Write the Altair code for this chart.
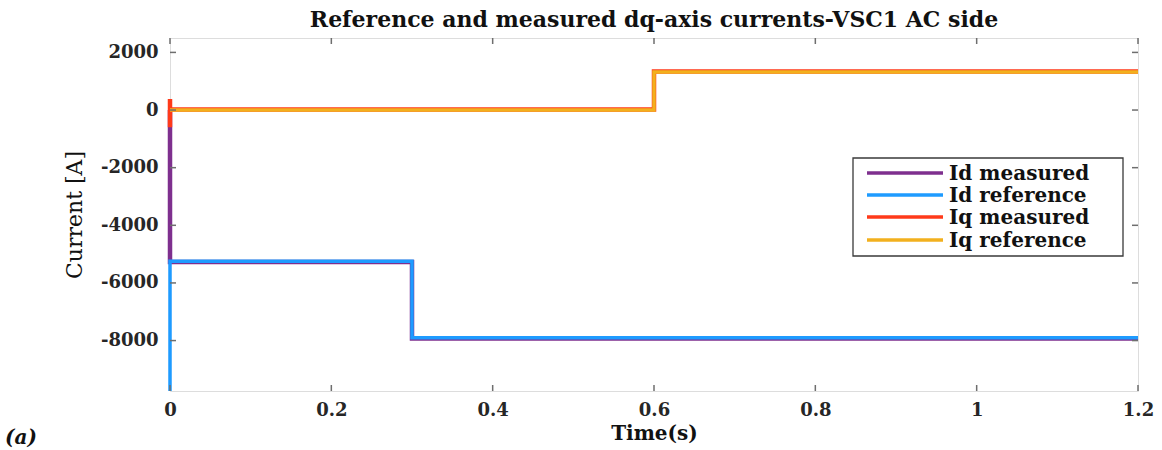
import altair as alt
import pandas as pd

# ---- data ----
series_names = ["Id measured", "Id reference", "Iq measured", "Iq reference"]
series_colors = ["#7E2F8E", "#1E9BFF", "#FF3A1A", "#F2B01E"]

t_id_meas = [0, 0, 0.3, 0.3, 1.2]
v_id_meas = [0, -5275, -5275, -7925, -7925]

t_id_ref = [0, 0, 0.3, 0.3, 1.2]
v_id_ref = [-9750, -5250, -5250, -7900, -7900]

t_iq_meas = [0, 0, 0, 0.6, 0.6, 1.2]
v_iq_meas = [-600, 380, 15, 15, 1340, 1340]

t_iq_ref = [0, 0.6, 0.6, 1.2]
v_iq_ref = [0, 0, 1320, 1320]

x_ticks = [0, 0.2, 0.4, 0.6, 0.8, 1, 1.2]
y_ticks = [2000, 0, -2000, -4000, -6000, -8000]

W, H = 968, 353
FONT = "DejaVu Serif"
LABEL_COL = "#262626"

x_scale = alt.Scale(domain=[0, 1.2], nice=False, zero=False)
y_scale = alt.Scale(domain=[-9750, 2500], nice=False, zero=False)

x_axis = alt.Axis(values=x_ticks, labelExpr="'' + datum.value", title="Time(s)",
                  ticks=False, domain=False, grid=False, labelPadding=10,
                  labelFont=FONT, labelFontSize=18, labelFontWeight="bold", labelColor=LABEL_COL,
                  titleFont=FONT, titleFontSize=20, titleFontWeight="bold", titleColor="#111",
                  titlePadding=4, labelFlush=False)
y_axis = alt.Axis(values=y_ticks, labelExpr="'' + datum.value", title="Current [A]",
                  ticks=False, domain=False, grid=False, labelPadding=12,
                  labelFont=FONT, labelFontSize=18, labelFontWeight="bold", labelColor=LABEL_COL,
                  titleFont=FONT, titleFontSize=22, titleFontWeight="normal", titleColor="#111",
                  titlePadding=14, labelFlush=False)

series_data = [
    (t_id_meas, v_id_meas, 4.5),
    (t_id_ref, v_id_ref, 3.5),
    (t_iq_meas, v_iq_meas, 4.5),
    (t_iq_ref, v_iq_ref, 3.5),
]

layers = []
for i, (ts, vs, sw) in enumerate(series_data):
    df = pd.DataFrame({"t": ts, "v": vs, "o": list(range(len(ts)))})
    if i == 0:
        xe = alt.X("t:Q", scale=x_scale, axis=x_axis)
        ye = alt.Y("v:Q", scale=y_scale, axis=y_axis)
    else:
        xe = alt.X("t:Q", scale=x_scale)
        ye = alt.Y("v:Q", scale=y_scale)
    layers.append(
        alt.Chart(df).mark_line(color=series_colors[i], strokeWidth=sw, strokeJoin="miter")
        .encode(x=xe, y=ye, order="o:Q")
    )

# inside ticks on all four sides
xt = pd.DataFrame({"t": x_ticks})
yt = pd.DataFrame({"v": y_ticks})
tick_col = "#6e6e6e"
ticks = [
    alt.Chart(xt).mark_rule(color=tick_col, strokeWidth=1.5).encode(
        x=alt.X("t:Q", scale=x_scale), y=alt.value(H), y2=alt.value(H - 6)),
    alt.Chart(xt).mark_rule(color=tick_col, strokeWidth=1.5).encode(
        x=alt.X("t:Q", scale=x_scale), y=alt.value(0), y2=alt.value(6)),
    alt.Chart(yt).mark_rule(color=tick_col, strokeWidth=1.5).encode(
        y=alt.Y("v:Q", scale=y_scale), x=alt.value(0), x2=alt.value(6)),
    alt.Chart(yt).mark_rule(color=tick_col, strokeWidth=1.5).encode(
        y=alt.Y("v:Q", scale=y_scale), x=alt.value(W), x2=alt.value(W - 6)),
]

# legend (manual, framed box inside plot)
leg = pd.DataFrame({
    "name": series_names,
    "color": series_colors,
    "py": [135, 157, 179, 202],
})
legend_box = alt.Chart(pd.DataFrame({"a": [0]})).mark_rect(
    fill="white", stroke="#3a3a3a", strokeWidth=1.3
).encode(x=alt.value(683), x2=alt.value(953), y=alt.value(120), y2=alt.value(218))
legend_lines = alt.Chart(leg).mark_rule(strokeWidth=3.5).encode(
    x=alt.value(697), x2=alt.value(773),
    y=alt.Y("py:Q", scale=None),
    color=alt.Color("color:N", scale=None),
)
legend_text = alt.Chart(leg).mark_text(
    align="left", baseline="middle", font=FONT, fontWeight="bold", fontSize=20, color="#111", dy=1
).encode(x=alt.value(779), y=alt.Y("py:Q", scale=None), text="name:N")

panel_label = alt.Chart(pd.DataFrame({"s": ["(a)"]})).mark_text(
    align="left", baseline="alphabetic", font=FONT, fontWeight="bold", fontStyle="italic",
    fontSize=20, color="#111"
).encode(x=alt.value(-165), y=alt.value(406), text="s:N")

chart = alt.layer(*layers, *ticks, legend_box, legend_lines, legend_text, panel_label).properties(
    width=W, height=H,
    autosize=alt.AutoSizeParams(type="none"),
    padding={"left": 170, "top": 38, "right": 24, "bottom": 59},
    title=alt.Title("Reference and measured dq-axis currents-VSC1 AC side",
                    font=FONT, fontSize=22, fontWeight="bold", color="#111",
                    anchor="middle", offset=5),
).configure_view(
    stroke="#7a7a7a", strokeWidth=1.5
).configure(background="white")

chart.save("out.html", embed_options={"renderer": "svg", "actions": False})
